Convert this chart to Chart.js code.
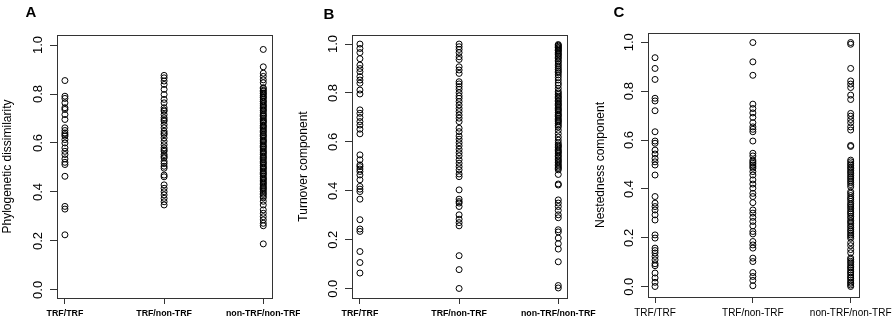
<!DOCTYPE html>
<html><head><meta charset="utf-8">
<script src="https://cdn.jsdelivr.net/npm/chart.js@4/dist/chart.umd.min.js"></script>
<style>
html,body{margin:0;padding:0;background:#fff;}
#wrap{position:relative;width:893px;height:320px;overflow:hidden;background:#fff;}
canvas{position:absolute;top:0;}
</style></head><body>
<div id="wrap">
<canvas id="cA" width="300" height="320" style="left:0px"></canvas>
<canvas id="cB" width="300" height="320" style="left:296px"></canvas>
<canvas id="cC" width="300" height="320" style="left:593px"></canvas>
</div>
<script>
// ---- data ----
const categories = ['TRF/TRF', 'TRF/non-TRF', 'non-TRF/non-TRF'];
const yTickValues = [0, 0.2, 0.4, 0.6, 0.8, 1.0];
const panelLetters = ['A', 'B', 'C'];
const yTitles = ['Phylogenetic dissimilarity', 'Turnover component', 'Nestedness component'];

// Panel A: phylogenetic dissimilarity
const phyloTrfTrf = [0.855, 0.791, 0.782, 0.764, 0.744, 0.737, 0.716, 0.696, 0.662, 0.651, 0.641, 0.634, 0.628, 0.614, 0.600, 0.580, 0.566, 0.553, 0.535, 0.521, 0.512, 0.464, 0.341, 0.330, 0.225];
const phyloTrfNon = [0.876, 0.866, 0.853, 0.839, 0.819, 0.798, 0.778, 0.764, 0.744, 0.735, 0.730, 0.716, 0.703, 0.695, 0.689, 0.675, 0.662, 0.648, 0.640, 0.634, 0.621, 0.607, 0.593, 0.580, 0.572, 0.566, 0.553, 0.545, 0.539, 0.525, 0.516, 0.505, 0.497, 0.469, 0.462, 0.429, 0.415, 0.401, 0.388, 0.374, 0.360, 0.347];
const phyloNonNon = [0.982, 0.911, 0.885, 0.872, 0.858, 0.846, 0.826, 0.822, 0.815, 0.811, 0.804, 0.801, 0.795, 0.788, 0.786, 0.779, 0.771, 0.769, 0.762, 0.755, 0.751, 0.746, 0.740, 0.734, 0.731, 0.723, 0.717, 0.712, 0.708, 0.701, 0.695, 0.690, 0.686, 0.681, 0.672, 0.669, 0.664, 0.658, 0.652, 0.647, 0.642, 0.635, 0.630, 0.626, 0.619, 0.612, 0.608, 0.604, 0.597, 0.590, 0.586, 0.581, 0.575, 0.568, 0.563, 0.559, 0.553, 0.546, 0.542, 0.537, 0.531, 0.524, 0.519, 0.515, 0.508, 0.502, 0.498, 0.493, 0.486, 0.480, 0.475, 0.471, 0.464, 0.457, 0.453, 0.448, 0.441, 0.436, 0.431, 0.424, 0.419, 0.414, 0.409, 0.402, 0.395, 0.390, 0.382, 0.376, 0.362, 0.347, 0.327, 0.313, 0.299, 0.286, 0.272, 0.262, 0.188];

// Panel B: turnover component
const turnTrfTrf = [1.000, 0.982, 0.965, 0.940, 0.914, 0.900, 0.887, 0.867, 0.853, 0.840, 0.812, 0.796, 0.731, 0.717, 0.700, 0.683, 0.669, 0.652, 0.633, 0.547, 0.527, 0.506, 0.499, 0.489, 0.479, 0.465, 0.445, 0.418, 0.407, 0.397, 0.366, 0.282, 0.244, 0.234, 0.152, 0.107, 0.064];
const turnTrfNon = [1.000, 0.989, 0.978, 0.965, 0.948, 0.937, 0.907, 0.894, 0.880, 0.846, 0.837, 0.826, 0.815, 0.801, 0.788, 0.778, 0.765, 0.751, 0.737, 0.724, 0.710, 0.697, 0.683, 0.656, 0.642, 0.624, 0.611, 0.597, 0.584, 0.570, 0.556, 0.543, 0.527, 0.513, 0.499, 0.486, 0.469, 0.458, 0.404, 0.366, 0.356, 0.350, 0.336, 0.302, 0.284, 0.270, 0.257, 0.135, 0.078, 0.001];
const turnNonNon = [0.998, 0.995, 0.991, 0.986, 0.984, 0.979, 0.974, 0.972, 0.966, 0.960, 0.957, 0.951, 0.945, 0.940, 0.932, 0.927, 0.918, 0.911, 0.903, 0.896, 0.889, 0.883, 0.874, 0.864, 0.853, 0.841, 0.832, 0.819, 0.807, 0.800, 0.794, 0.787, 0.782, 0.776, 0.769, 0.765, 0.758, 0.753, 0.749, 0.742, 0.736, 0.731, 0.727, 0.720, 0.713, 0.709, 0.704, 0.697, 0.691, 0.686, 0.682, 0.675, 0.668, 0.661, 0.648, 0.634, 0.620, 0.607, 0.596, 0.588, 0.583, 0.578, 0.570, 0.564, 0.559, 0.554, 0.546, 0.541, 0.534, 0.527, 0.522, 0.516, 0.509, 0.503, 0.497, 0.492, 0.486, 0.467, 0.428, 0.424, 0.363, 0.350, 0.336, 0.320, 0.302, 0.290, 0.241, 0.232, 0.207, 0.184, 0.162, 0.110, 0.013, 0.003];

// Panel C: nestedness component
const nestTrfTrf = [0.937, 0.893, 0.848, 0.771, 0.760, 0.720, 0.634, 0.596, 0.587, 0.559, 0.543, 0.525, 0.511, 0.498, 0.457, 0.369, 0.342, 0.328, 0.314, 0.294, 0.273, 0.212, 0.199, 0.158, 0.148, 0.138, 0.124, 0.110, 0.094, 0.086, 0.056, 0.036, 0.018, 0.001];
const nestTrfNon = [0.999, 0.920, 0.865, 0.747, 0.729, 0.711, 0.693, 0.671, 0.654, 0.644, 0.634, 0.596, 0.546, 0.535, 0.518, 0.511, 0.505, 0.498, 0.491, 0.485, 0.471, 0.457, 0.437, 0.420, 0.403, 0.382, 0.369, 0.344, 0.314, 0.301, 0.284, 0.267, 0.249, 0.226, 0.216, 0.185, 0.171, 0.158, 0.117, 0.103, 0.058, 0.042, 0.026, 0.004];
const nestNonNon = [0.999, 0.992, 0.893, 0.842, 0.829, 0.815, 0.784, 0.766, 0.709, 0.698, 0.684, 0.671, 0.654, 0.641, 0.578, 0.574, 0.518, 0.511, 0.503, 0.497, 0.489, 0.484, 0.476, 0.469, 0.463, 0.455, 0.448, 0.441, 0.433, 0.426, 0.418, 0.409, 0.389, 0.382, 0.373, 0.364, 0.358, 0.349, 0.340, 0.334, 0.326, 0.319, 0.310, 0.303, 0.297, 0.288, 0.281, 0.271, 0.265, 0.258, 0.249, 0.242, 0.233, 0.227, 0.219, 0.212, 0.205, 0.198, 0.180, 0.168, 0.152, 0.139, 0.118, 0.112, 0.104, 0.098, 0.090, 0.082, 0.077, 0.069, 0.061, 0.056, 0.048, 0.040, 0.035, 0.027, 0.019, 0.014, 0.007, 0.001];

// ---- drawing ----
Chart.defaults.font.family = '"Liberation Sans", Arial, Helvetica, sans-serif';
Chart.defaults.color = '#000';

const boxPlugin = {
  id: 'rbox',
  afterDraw(chart) {
    const {ctx, chartArea: a} = chart;
    ctx.save();
    ctx.strokeStyle = '#333';
    ctx.lineWidth = 1;
    const l = Math.round(a.left) + 0.5, t = Math.round(a.top) + 0.5;
    const r = Math.round(a.right) + 0.5, b = Math.round(a.bottom) + 0.5;
    ctx.strokeRect(l, t, r - l, b - t);
    ctx.restore();
  }
};
const letterPlugin = {
  id: 'letter',
  afterDraw(chart, args, opts) {
    const ctx = chart.ctx;
    ctx.save();
    ctx.font = 'bold 15px "Liberation Sans", Arial, sans-serif';
    ctx.fillStyle = '#000';
    ctx.textAlign = 'center';
    ctx.textBaseline = 'middle';
    ctx.fillText(opts.text, opts.x, opts.y);
    ctx.restore();
  }
};

function makePanel(id, series, p) {
  const datasets = series.map((arr, i) => ({
    data: arr.map(v => ({x: i + 1, y: v})),
    pointStyle: 'circle',
    pointRadius: 3,
    pointHoverRadius: 3,
    pointBorderWidth: 1,
    borderColor: '#000',
    backgroundColor: 'rgba(0,0,0,0)',
    showLine: false
  }));
  return new Chart(document.getElementById(id), {
    type: 'scatter',
    data: {datasets},
    plugins: [boxPlugin, letterPlugin],
    options: {
      responsive: false,
      animation: false,
      events: [],
      layout: {padding: {left: 0, right: p.padRight, top: p.padTop, bottom: 0}},
      plugins: {
        legend: {display: false},
        tooltip: {enabled: false},
        letter: {text: p.letter, x: p.letterX, y: p.letterY}
      },
      scales: {
        x: {
          type: 'linear', position: 'bottom', min: p.xMin, max: p.xMax,
          afterBuildTicks: s => { s.ticks = categories.map((c, i) => ({value: i + 1})); },
          afterFit: s => { s.height = p.xHeight; s.paddingLeft = 0; s.paddingRight = 0; },
          ticks: {
            autoSkip: false, maxRotation: 0, minRotation: 0, padding: 4,
            callback: v => categories[Math.round(v) - 1],
            font: p.xFont, color: '#000'
          },
          grid: {display: true, drawOnChartArea: false, drawTicks: true, tickLength: 6, color: '#333', lineWidth: 1},
          border: {display: true, color: '#333', width: 1}
        },
        y: {
          type: 'linear', position: 'left', min: p.yMin, max: p.yMax,
          afterBuildTicks: s => { s.ticks = yTickValues.map(v => ({value: v})); },
          afterFit: s => { s.width = p.yWidth; s.paddingTop = 0; s.paddingBottom = 0; },
          ticks: {
            minRotation: 90, maxRotation: 90, crossAlign: 'center', padding: 3,
            callback: v => Number(v).toFixed(1),
            font: {size: 13}, color: '#000'
          },
          title: {display: true, text: p.yTitle, font: {size: 12}, color: '#000', padding: {top: 0, bottom: 0}},
          grid: {display: true, drawOnChartArea: false, drawTicks: true, tickLength: 7, color: '#333', lineWidth: 1},
          border: {display: true, color: '#333', width: 1}
        }
      }
    }
  });
}

makePanel('cA', [phyloTrfTrf, phyloTrfNon, phyloNonNon], {
  letter: panelLetters[0], letterX: 31, letterY: 13, yTitle: yTitles[0],
  padTop: 35, padRight: 28, yWidth: 57, xHeight: 22,
  xMin: 0.92, xMax: 3.088, yMin: -0.033, yMax: 1.041,
  xFont: {size: 8.8, weight: 'bold'}
});
makePanel('cB', [turnTrfTrf, turnTrfNon, turnNonNon], {
  letter: panelLetters[1], letterX: 33, letterY: 15, yTitle: yTitles[1],
  padTop: 35, padRight: 29, yWidth: 56, xHeight: 22,
  xMin: 0.92, xMax: 3.088, yMin: -0.038, yMax: 1.037,
  xFont: {size: 8.8, weight: 'bold'}
});
makePanel('cC', [nestTrfTrf, nestTrfNon, nestNonNon], {
  letter: panelLetters[2], letterX: 26, letterY: 13, yTitle: yTitles[2],
  padTop: 33, padRight: 34, yWidth: 55, xHeight: 23,
  xMin: 0.928, xMax: 3.085, yMin: -0.042, yMax: 1.038,
  xFont: {size: 10}
});
</script>
</body></html>
